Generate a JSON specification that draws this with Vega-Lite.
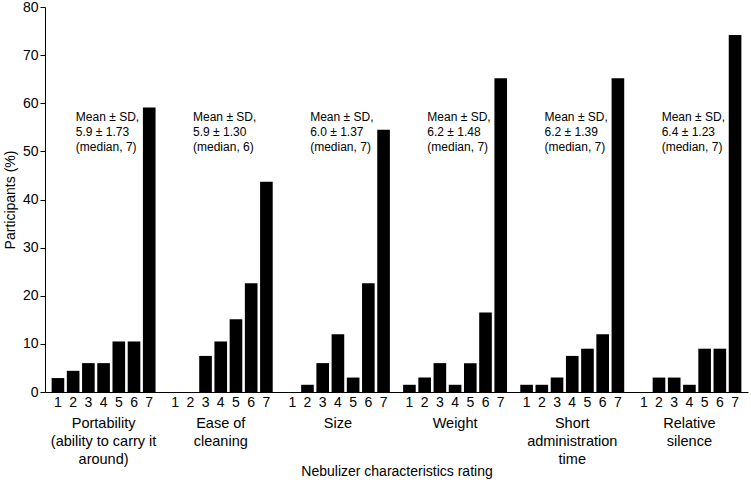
{
  "$schema": "https://vega.github.io/schema/vega-lite/v6.json",
  "width": 703,
  "height": 385,
  "autosize": {"type": "none"},
  "padding": {"left": 45, "top": 7, "right": 3, "bottom": 93},
  "background": "white",
  "config": {
    "font": "Liberation Sans",
    "view": {"stroke": null},
    "axis": {
      "domainColor": "black",
      "tickColor": "black",
      "labelColor": "black",
      "titleColor": "black",
      "labelFont": "Liberation Sans",
      "titleFont": "Liberation Sans",
      "labelFontSize": 14,
      "titleFontSize": 14,
      "titleFontWeight": "normal",
      "grid": false
    }
  },
  "datasets": {
    "ratings": [
      {"group": "Portability", "rating": 1, "pct": 2.9},
      {"group": "Portability", "rating": 2, "pct": 4.4},
      {"group": "Portability", "rating": 3, "pct": 6.0},
      {"group": "Portability", "rating": 4, "pct": 6.0},
      {"group": "Portability", "rating": 5, "pct": 10.5},
      {"group": "Portability", "rating": 6, "pct": 10.5},
      {"group": "Portability", "rating": 7, "pct": 59.1},
      {"group": "Ease of cleaning", "rating": 1, "pct": 0},
      {"group": "Ease of cleaning", "rating": 2, "pct": 0},
      {"group": "Ease of cleaning", "rating": 3, "pct": 7.5},
      {"group": "Ease of cleaning", "rating": 4, "pct": 10.5},
      {"group": "Ease of cleaning", "rating": 5, "pct": 15.1},
      {"group": "Ease of cleaning", "rating": 6, "pct": 22.6},
      {"group": "Ease of cleaning", "rating": 7, "pct": 43.7},
      {"group": "Size", "rating": 1, "pct": 0},
      {"group": "Size", "rating": 2, "pct": 1.5},
      {"group": "Size", "rating": 3, "pct": 6.0},
      {"group": "Size", "rating": 4, "pct": 12.0},
      {"group": "Size", "rating": 5, "pct": 3.0},
      {"group": "Size", "rating": 6, "pct": 22.6},
      {"group": "Size", "rating": 7, "pct": 54.5},
      {"group": "Weight", "rating": 1, "pct": 1.5},
      {"group": "Weight", "rating": 2, "pct": 3.0},
      {"group": "Weight", "rating": 3, "pct": 6.0},
      {"group": "Weight", "rating": 4, "pct": 1.5},
      {"group": "Weight", "rating": 5, "pct": 6.0},
      {"group": "Weight", "rating": 6, "pct": 16.5},
      {"group": "Weight", "rating": 7, "pct": 65.2},
      {"group": "Short administration time", "rating": 1, "pct": 1.5},
      {"group": "Short administration time", "rating": 2, "pct": 1.5},
      {"group": "Short administration time", "rating": 3, "pct": 3.0},
      {"group": "Short administration time", "rating": 4, "pct": 7.5},
      {"group": "Short administration time", "rating": 5, "pct": 9.0},
      {"group": "Short administration time", "rating": 6, "pct": 12.0},
      {"group": "Short administration time", "rating": 7, "pct": 65.2},
      {"group": "Relative silence", "rating": 1, "pct": 0},
      {"group": "Relative silence", "rating": 2, "pct": 3.0},
      {"group": "Relative silence", "rating": 3, "pct": 3.0},
      {"group": "Relative silence", "rating": 4, "pct": 1.5},
      {"group": "Relative silence", "rating": 5, "pct": 9.0},
      {"group": "Relative silence", "rating": 6, "pct": 9.0},
      {"group": "Relative silence", "rating": 7, "pct": 74.2}
    ],
    "groups": [
      {"group": "Portability", "label": "Portability|(ability to carry it|around)", "stats": "Mean ± SD,|5.9 ± 1.73|(median, 7)"},
      {"group": "Ease of cleaning", "label": "Ease of|cleaning", "stats": "Mean ± SD,|5.9 ± 1.30|(median, 6)"},
      {"group": "Size", "label": "Size", "stats": "Mean ± SD,|6.0 ± 1.37|(median, 7)"},
      {"group": "Weight", "label": "Weight", "stats": "Mean ± SD,|6.2 ± 1.48|(median, 7)"},
      {"group": "Short administration time", "label": "Short|administration|time", "stats": "Mean ± SD,|6.2 ± 1.39|(median, 7)"},
      {"group": "Relative silence", "label": "Relative|silence", "stats": "Mean ± SD,|6.4 ± 1.23|(median, 7)"}
    ]
  },
  "layer": [
    {
      "data": {"name": "ratings"},
      "mark": {"type": "bar", "color": "black"},
      "encoding": {
        "x": {
          "field": "group",
          "type": "nominal",
          "scale": {
            "domain": ["Portability", "Ease of cleaning", "Size", "Weight", "Short administration time", "Relative silence"],
            "paddingInner": 0.1,
            "paddingOuter": 0.05
          },
          "axis": {
            "labels": false,
            "ticks": false,
            "title": "Nebulizer characteristics rating",
            "titlePadding": 72
          }
        },
        "xOffset": {
          "field": "rating",
          "type": "ordinal",
          "scale": {"paddingInner": 0.17, "paddingOuter": 0.05}
        },
        "y": {
          "field": "pct",
          "type": "quantitative",
          "scale": {"domain": [0, 80], "nice": false},
          "axis": {
            "values": [0, 10, 20, 30, 40, 50, 60, 70, 80],
            "title": "Participants (%)",
            "tickSize": 5,
            "labelPadding": 2,
            "titlePadding": 5
          }
        }
      }
    },
    {
      "data": {"name": "ratings"},
      "mark": {"type": "text", "baseline": "middle", "dy": 11, "fontSize": 14, "color": "black"},
      "encoding": {
        "x": {"field": "group", "type": "nominal"},
        "xOffset": {"field": "rating", "type": "ordinal"},
        "y": {"datum": 0, "type": "quantitative"},
        "text": {"field": "rating", "type": "ordinal"}
      }
    },
    {
      "data": {"name": "groups"},
      "mark": {"type": "text", "baseline": "top", "dy": 25, "fontSize": 14.5, "lineHeight": 18, "lineBreak": "|", "color": "black"},
      "encoding": {
        "x": {"field": "group", "type": "nominal"},
        "y": {"datum": 0, "type": "quantitative"},
        "text": {"field": "label", "type": "nominal"}
      }
    },
    {
      "data": {"name": "groups"},
      "mark": {"type": "text", "align": "left", "baseline": "middle", "dx": 25, "fontSize": 12, "lineHeight": 15, "lineBreak": "|", "color": "black"},
      "encoding": {
        "x": {"field": "group", "type": "nominal", "bandPosition": 0},
        "y": {"datum": 57.1, "type": "quantitative"},
        "text": {"field": "stats", "type": "nominal"}
      }
    }
  ]
}
